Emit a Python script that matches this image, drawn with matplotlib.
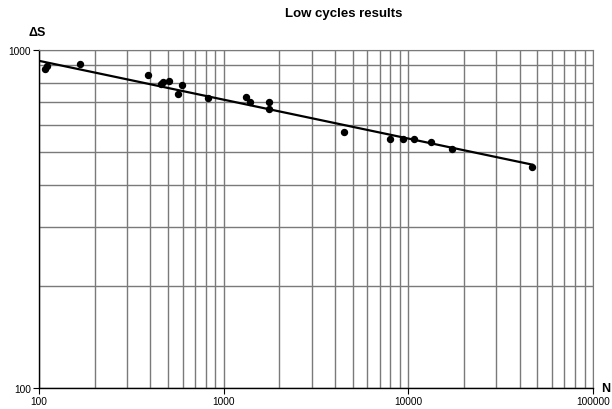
import numpy as np
import matplotlib
matplotlib.use('Agg')
import matplotlib.pyplot as plt
from matplotlib.ticker import LogLocator, FixedLocator, NullFormatter

plt.rcParams['font.family'] = ['Liberation Sans', 'DejaVu Sans']

# test results (cycles, stress range)
cycles = [108, 110, 167, 391, 456, 467, 508, 597, 568, 825,
          1320, 1388, 1766, 1762, 4479, 7950, 9385, 10683, 13255, 17155, 46860]
stress = [879, 894, 909, 843, 792, 806, 808, 790, 741, 720,
          724, 700, 700, 669, 571, 544, 547, 547, 535, 509, 451]

# power-law trend line: S = a * (N/100)^b
trend_a = 929
trend_b = -0.115
x_fit = np.array([100, max(cycles)])
y_fit = trend_a * (x_fit / 100.0) ** trend_b

fig = plt.figure(figsize=(6.12, 4.10), dpi=100)
ax = fig.add_axes([39 / 612, 1 - 389 / 410, 554 / 612, 338 / 410])

ax.set_xscale('log')
ax.set_yscale('log')
ax.set_xlim(100, 100000)
ax.set_ylim(100, 1000)

ax.grid(True, which='both', color='#7a7a7a', linewidth=1.0)
ax.set_axisbelow(True)

ax.plot(x_fit, y_fit, color='black', linewidth=1.6, zorder=3)
ax.plot(cycles, stress, 'o', color='black', markersize=4.3, zorder=4)

ax.xaxis.set_major_locator(FixedLocator([100, 1000, 10000, 100000]))
ax.yaxis.set_major_locator(FixedLocator([100, 1000]))
ax.xaxis.set_minor_locator(LogLocator(base=10, subs=np.arange(2, 10)))
ax.yaxis.set_minor_locator(LogLocator(base=10, subs=np.arange(2, 10)))
ax.xaxis.set_minor_formatter(NullFormatter())
ax.yaxis.set_minor_formatter(NullFormatter())
ax.set_xticklabels(['100', '1000', '10000', '100000'])
ax.set_yticklabels(['100', '1000'])
ax.tick_params(which='major', length=4, width=0.8, labelsize=7.3, pad=2)
ax.tick_params(which='minor', length=0)

for s in ['top', 'right']:
    ax.spines[s].set_color('#7a7a7a')
for s in ['left', 'bottom']:
    ax.spines[s].set_color('black')
    ax.spines[s].set_linewidth(1.0)

fig.text(344 / 612, 1 - 14 / 410, 'Low cycles results', ha='center', va='center',
         fontsize=9.5, fontweight='bold')
fig.text(37 / 612, 1 - 33 / 410, '\u0394S', ha='center', va='center',
         fontsize=9, fontweight='bold')
fig.text(610 / 612, 1 - 389 / 410, 'N', ha='right', va='center',
         fontsize=9, fontweight='bold')

fig.savefig('out.png', dpi=100)
